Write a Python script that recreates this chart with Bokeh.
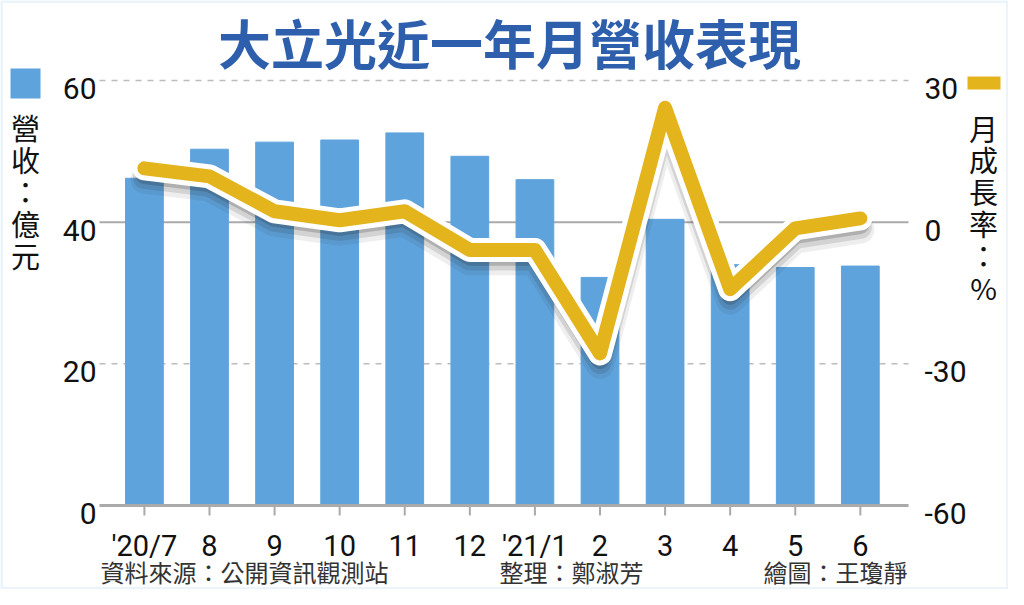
import numpy as np
from bokeh.plotting import figure
from bokeh.models import Range1d, Label, BoxAnnotation, ColumnDataSource
from bokeh.core.properties import value
from bokeh.transform import dodge
from bokeh.embed import file_html
from bokeh.resources import INLINE

# data
months = ["'20/7", "8", "9", "10", "11", "12", "'21/1", "2", "3", "4", "5", "6"]
revenue = [46.2, 50.3, 51.3, 51.6, 52.6, 49.3, 46.0, 32.2, 40.4, 34.0, 33.6, 33.8]  # 億元
growth = [11.4, 9.7, 2.3, 0.4, 2.3, -5.9, -5.9, -27.8, 24.2, -14.2, -1.3, 0.8]  # %
rev_ticks = [0, 20, 40, 60]
growth_ticks = [-60, -30, 0, 30]

title = "大立光近一年月營收表現"
left_label = "營收：億元"
right_label = "月成長率：%"
source_note = "資料來源：公開資訊觀測站"
editor_note = "整理：鄭淑芳"
artist_note = "繪圖：王瓊靜"

BLUE = "#5fa3dd"
GOLD = "#e3b41c"
GRID = "#aaaaaa"
CJK = "Noto Sans CJK TC"
NUM = "Roboto"

# canvas and plot area (pixels); plot frame covers the whole canvas so that
# texts outside the bar area are not clipped
W, H = 1008, 589
PL, PR = 99, 908          # plot area left / right, from canvas left
PB, PT = 84, 509          # plot area bottom / top, from canvas bottom
x_lo, x_hi = -0.69, 11.74


def full_range(lo, hi, px_lo, px_hi, size):
    unit = (px_hi - px_lo) / (hi - lo)
    return Range1d(lo - px_lo / unit, hi + (size - px_hi) / unit)


idx = list(range(len(months)))
src = ColumnDataSource(dict(x=idx, rev=revenue, g=growth))

p = figure(width=W, height=H, output_backend="svg", toolbar_location=None,
           x_range=full_range(x_lo, x_hi, PL, PR, W),
           y_range=full_range(rev_ticks[0], rev_ticks[-1], PB, PT, H),
           x_axis_location=None, y_axis_location=None, min_border=0)
p.outline_line_color = None
p.grid.visible = False
p.extra_y_ranges = {"growth": full_range(growth_ticks[0], growth_ticks[-1], PB, PT, H)}

# grid lines: 20 and 60 dashed, 40 solid
dashed = [t for t in rev_ticks[1:] if t != 40]
p.segment(x0=x_lo, x1=x_hi, y0=dashed, y1=dashed, line_color="#bbbbbb",
          line_width=1.5, line_dash="6 6")
p.segment(x0=x_lo, x1=x_hi, y0=40, y1=40, line_color=GRID, line_width=2)

# bars
p.vbar(x="x", top="rev", width=0.58, source=src, color=BLUE)

# x axis line and ticks
p.segment(x0=x_lo, x1=x_hi, y0=0, y1=0, line_color=GRID, line_width=3)
p.ray(x=idx, y=0, length=10, length_units="screen", angle=-np.pi / 2,
      line_color=GRID, line_width=2)

# growth line with soft shadow and white outline
for off, w, a in [(-2.4, 28, 0.08), (-1.9, 23, 0.13), (-1.4, 18, 0.2)]:
    p.line(x="x", y=dodge("g", off), source=src, y_range_name="growth",
           line_width=w, line_color="#222222", line_alpha=a,
           line_join="round", line_cap="round")
p.line(x="x", y="g", source=src, y_range_name="growth", line_width=24,
       line_color="white", line_join="round", line_cap="round")
p.line(x="x", y="g", source=src, y_range_name="growth", line_width=14,
       line_color=GOLD, line_join="round", line_cap="round")

# tick labels
p.text(x=[x_lo] * len(rev_ticks), y=rev_ticks, text=[str(t) for t in rev_ticks],
       x_offset=-3, y_offset=8, text_align="right", text_baseline="middle",
       text_font=value(NUM), text_font_size="30px", text_color="#111111")
p.text(x=[x_hi] * len(growth_ticks), y=growth_ticks,
       text=[str(t) for t in growth_ticks], y_range_name="growth",
       x_offset=16, y_offset=8, text_align="left", text_baseline="middle",
       text_font=value(NUM), text_font_size="30px", text_color="#111111")
p.text(x=idx, y=[0] * len(idx), text=months, y_offset=40,
       text_align="center", text_baseline="middle",
       text_font=value(NUM), text_font_size="29px", text_color="#111111")


# other texts, in screen units (from canvas bottom-left)
def put(text, sx, sy, size, color="#111111", align="center", bold=False):
    p.add_layout(Label(x=sx, y=sy, x_units="screen", y_units="screen",
                       text=text, text_font=CJK, text_font_size=size,
                       text_color=color, text_align=align,
                       text_baseline="middle",
                       text_font_style="bold" if bold else "normal"))


put(title, 509, 548, "53px", color="#2e5fac", bold=True)

for i, ch in enumerate(left_label):
    put(ch, 25, 463 - 32 * i, "29px")
for i, ch in enumerate(right_label):
    put(ch, 983, 462 - 31.8 * i, "29px")

put(source_note, 100, 18, "24px", color="#333333", align="left")
put(editor_note, 499, 18, "24px", color="#333333", align="left")
put(artist_note, 907, 18, "24px", color="#333333", align="right")

# legend swatches
p.add_layout(BoxAnnotation(left=10, right=40, bottom=491, top=521,
                           left_units="screen", right_units="screen",
                           bottom_units="screen", top_units="screen",
                           fill_color=BLUE, fill_alpha=1, line_color=None))
p.add_layout(BoxAnnotation(left=967, right=1000, bottom=500, top=513,
                           left_units="screen", right_units="screen",
                           bottom_units="screen", top_units="screen",
                           fill_color=GOLD, fill_alpha=1, line_color=None))

# light blue frame round the graphic
p.add_layout(BoxAnnotation(left=1, right=W - 1, bottom=1, top=H - 1,
                           left_units="screen", right_units="screen",
                           bottom_units="screen", top_units="screen",
                           fill_alpha=0, line_color="#bcdaf2", line_width=3))

open("out.html", "w").write(file_html(p, INLINE))
